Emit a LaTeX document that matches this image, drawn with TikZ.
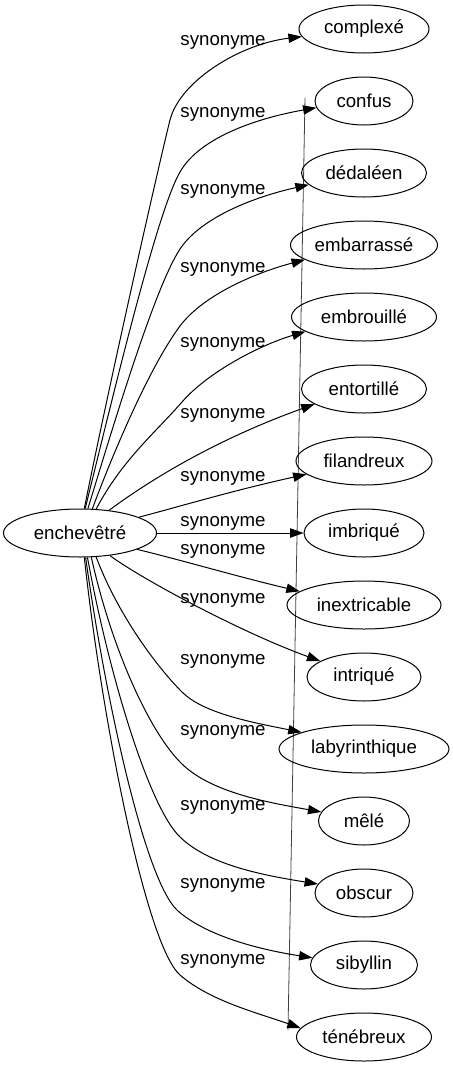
\documentclass[tikz,border=0pt]{standalone}
\usepackage{fontspec}
\setmainfont{Liberation Sans}
\usetikzlibrary{shapes.geometric,arrows.meta}
\begin{document}
\begin{tikzpicture}[x=0.75pt,y=-0.75pt,
  font=\fontsize{14pt}{16pt}\selectfont,
  tn/.style={ellipse,draw,line width=0.75pt,minimum height=36pt,inner sep=0pt},
  syn/.style={inner sep=0pt},
  edge/.style={line width=0.75pt,-{Triangle[length=10pt,width=7pt]}}]
\useasboundingbox (0,0) rectangle (453,1067);
% artefact line
\draw[line width=0.6pt,black!75] (305,98) -- (288,1030);
% nodes
\node[tn,minimum width=114.75pt] (src) at (80,533) {enchevêtré};
\node[tn,minimum width=97.5pt]  (t1)  at (364,29)   {complexé};
\node[tn,minimum width=73.5pt]  (t2)  at (364,101)  {confus};
\node[tn,minimum width=93.75pt] (t3)  at (364,173)  {dédaléen};
\node[tn,minimum width=110.25pt](t4)  at (364,245)  {embarrassé};
\node[tn,minimum width=108.75pt](t5)  at (364,317)  {embrouillé};
\node[tn,minimum width=93.75pt] (t6)  at (364,389)  {entortillé};
\node[tn,minimum width=102pt]   (t7)  at (364,461)  {filandreux};
\node[tn,minimum width=90pt]    (t8)  at (364,533)  {imbriqué};
\node[tn,minimum width=115.5pt] (t9)  at (364,605)  {inextricable};
\node[tn,minimum width=85.5pt]  (t10) at (364,677)  {intriqué};
\node[tn,minimum width=127.5pt] (t11) at (364,749)  {labyrinthique};
\node[tn,minimum width=68.25pt] (t12) at (364,821)  {mêlé};
\node[tn,minimum width=73.5pt]  (t13) at (364,893)  {obscur};
\node[tn,minimum width=80.25pt] (t14) at (364,965)  {sibyllin};
\node[tn,minimum width=101.25pt](t15) at (364,1037) {ténébreux};
% labels
\node[syn] (l1)  at (223,42)  {synonyme};
\node[syn] (l2)  at (223,114) {synonyme};
\node[syn] (l3)  at (223,191) {synonyme};
\node[syn] (l4)  at (223,269) {synonyme};
\node[syn] (l5)  at (223,344) {synonyme};
\node[syn] (l6)  at (223,415) {synonyme};
\node[syn] (l7)  at (223,478) {synonyme};
\node[syn] (l8)  at (223,523) {synonyme};
\node[syn] (l9)  at (223,551) {synonyme};
\node[syn] (l10) at (223,600) {synonyme};
\node[syn] (l11) at (223,661) {synonyme};
\node[syn] (l12) at (223,732) {synonyme};
\node[syn] (l13) at (223,807) {synonyme};
\node[syn] (l14) at (223,885) {synonyme};
\node[syn] (l15) at (223,961) {synonyme};
% edges (upper)
\draw[edge] (src.80) .. controls (108,390) and (158,168) .. (170,120) .. controls (180,81) and (240,44) .. (t1.187);
\draw[edge] (src.78) .. controls (112,400) and (157,211) .. (180,172) .. controls (200,137) and (258,118) .. (t2.188);
\draw[edge] (src.72) .. controls (115,420) and (155,287) .. (180,249) .. controls (202,216) and (258,196) .. (t3.192);
\draw[edge] (src.63) .. controls (118,440) and (153,362) .. (180,326) .. controls (204,294) and (258,272) .. (t4.194);
\draw[edge] (src.56) .. controls (122,460) and (156,432) .. (182,402) .. controls (208,372) and (260,345) .. (t5.194);
\draw[edge] (src.38) .. controls (150,480) and (215,440) .. (t6.197);
\draw[edge] (src.15) .. controls (185,505) and (235,490) .. (t7.193);
\draw[edge] (src) -- (t8);
% edges (lower)
\draw[edge] (src.344) .. controls (185,561) and (235,576) .. (t9.168);
\draw[edge] (src.323) .. controls (140,578) and (240,632) .. (t10.160);
\draw[edge] (src.304) .. controls (118,615) and (157,667) .. (182,692) .. controls (203,713) and (250,722) .. (t11.165);
\draw[edge] (src.295) .. controls (112,650) and (150,733) .. (182,764) .. controls (211,792) and (265,802) .. (t12.168);
\draw[edge] (src.287) .. controls (108,670) and (148,806) .. (180,837) .. controls (209,865) and (262,875) .. (t13.169);
\draw[edge] (src.283) .. controls (104,690) and (144,881) .. (178,911) .. controls (208,937) and (262,950) .. (t14.172);
\draw[edge] (src.280) .. controls (102,720) and (146,945) .. (180,975) .. controls (210,1001) and (258,1013) .. (t15.172);
\end{tikzpicture}
\end{document}
